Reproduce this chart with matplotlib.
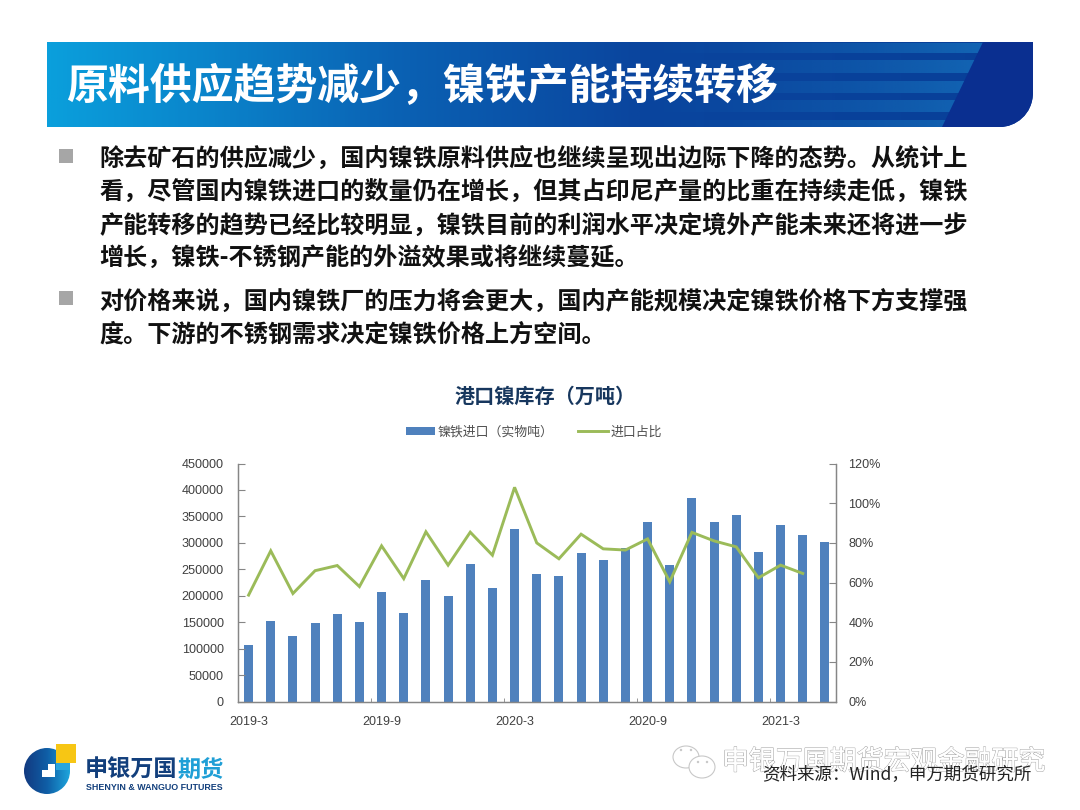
import numpy as np
import matplotlib

matplotlib.use("Agg")
import matplotlib.pyplot as plt
from matplotlib.colors import LinearSegmentedColormap
from matplotlib.patches import Circle, Ellipse, PathPatch, Polygon, Rectangle
from matplotlib.path import Path
import matplotlib.patheffects as pe

plt.rcParams["font.family"] = ["Noto Sans CJK SC", "DejaVu Sans"]
plt.rcParams["axes.unicode_minus"] = False

months = [
    "2019-3", "2019-4", "2019-5", "2019-6", "2019-7", "2019-8", "2019-9",
    "2019-10", "2019-11", "2019-12", "2020-1", "2020-2", "2020-3", "2020-4",
    "2020-5", "2020-6", "2020-7", "2020-8", "2020-9", "2020-10", "2020-11",
    "2020-12", "2021-1", "2021-2", "2021-3", "2021-4", "2021-5",
]
imports = [
    107000, 153000, 125000, 148000, 165000, 150000, 208000, 168000, 229000,
    199000, 260000, 214000, 327000, 241000, 237000, 280000, 267000, 290000,
    340000, 259000, 385000, 340000, 353000, 283000, 333000, 315000, 301000,
]
share = [
    0.537, 0.76, 0.545, 0.66, 0.686, 0.58, 0.785, 0.62, 0.856, 0.688, 0.854,
    0.738, 1.08, 0.80, 0.72, 0.844, 0.77, 0.764, 0.82, 0.604, 0.853, 0.81,
    0.78, 0.624, 0.688, 0.646,
]
tick_labels = ["2019-3", "2019-9", "2020-3", "2020-9", "2021-3"]
left_ticks = list(range(0, 450001, 50000))
right_ticks = [0, 0.2, 0.4, 0.6, 0.8, 1.0, 1.2]

slide_title = "原料供应趋势减少，镍铁产能持续转移"
body_lines = [
    "除去矿石的供应减少，国内镍铁原料供应也继续呈现出边际下降的态势。从统计上",
    "看，尽管国内镍铁进口的数量仍在增长，但其占印尼产量的比重在持续走低，镍铁",
    "产能转移的趋势已经比较明显，镍铁目前的利润水平决定境外产能未来还将进一步",
    "增长，镍铁-不锈钢产能的外溢效果或将继续蔓延。",
    "对价格来说，国内镍铁厂的压力将会更大，国内产能规模决定镍铁价格下方支撑强",
    "度。下游的不锈钢需求决定镍铁价格上方空间。",
]
body_y = [160, 193, 226, 259, 302, 335]

W, H = 1080, 810
fig = plt.figure(figsize=(W / 100, H / 100), dpi=100, facecolor="white")

# slide decoration in pixel coordinates
bg = fig.add_axes([0, 0, 1, 1])
bg.set_xlim(0, W)
bg.set_ylim(H, 0)
bg.axis("off")

banner = Path(
    [(47, 42), (1033, 42), (1033, 92), (1033, 115), (1015, 127), (1000, 127), (47, 127), (47, 42)],
    [Path.MOVETO, Path.LINETO, Path.LINETO, Path.CURVE4, Path.CURVE4, Path.CURVE4, Path.LINETO, Path.CLOSEPOLY],
)
clip = PathPatch(banner, transform=bg.transData, facecolor="none", edgecolor="none")
bg.add_patch(clip)
cmap = LinearSegmentedColormap.from_list(
    "banner",
    [(0, "#0a9fdc"), (0.15, "#0a86cc"), (0.35, "#0a62b4"), (0.6, "#0a459e"), (1, "#083f98")],
)
grad = bg.imshow(
    np.linspace(0, 1, 400).reshape(1, -1), cmap=cmap, extent=(47, 1033, 127, 42),
    aspect="auto", zorder=1,
)
grad.set_clip_path(clip)

# lighter stripes fading out to the left
stripes = [(43, 53), (60, 73), (81, 93), (100, 112), (120, 127)]
fade = np.zeros((1, 300, 4))
fade[..., :3] = matplotlib.colors.to_rgb("#1365b4")
fade[..., 3] = np.linspace(0, 1, 300) ** 1.3
for y0, y1 in stripes:
    im = bg.imshow(fade, extent=(640, 985, y1, y0), aspect="auto", zorder=2)
    im.set_clip_path(clip)

dark = Polygon([(983, 42), (1040, 42), (1040, 130), (942, 130), (942, 127)],
               facecolor="#0a2f90", edgecolor="none", zorder=3)
bg.add_patch(dark)
dark.set_clip_path(clip)

bg.text(66, 87, slide_title, color="white", fontsize=30.2, fontweight="bold",
        va="center", ha="left", zorder=5)

for y in (149, 291):
    bg.add_patch(Rectangle((59, y), 14, 14, facecolor="#a6a6a6", edgecolor="none"))
for y, line in zip(body_y, body_lines):
    bg.text(99, y, line, color="#111111", fontsize=17.35, fontweight="bold",
            va="center", ha="left")

bg.text(545, 396, "港口镍库存（万吨）", color="#17375e", fontsize=14.5, fontweight="bold",
        va="center", ha="center")

# logo
logo_cmap = LinearSegmentedColormap.from_list("logo", ["#123a80", "#0f5ea6", "#1ea5dc"])
disc = bg.imshow(np.linspace(0, 1, 100).reshape(1, -1), cmap=logo_cmap, extent=(24, 70, 794, 748),
                 aspect="auto", zorder=2)
disc.set_clip_path(Circle((47, 771), 23, transform=bg.transData))
bg.add_patch(Rectangle((56, 752), 14, 18, facecolor="#2aa6dd", edgecolor="none", zorder=3))
bg.add_patch(Rectangle((56, 744), 20, 19, facecolor="#f7c614", edgecolor="none", zorder=4))
bg.add_patch(Polygon([(42, 770), (48, 770), (48, 764), (55, 764), (55, 777), (42, 777)],
                     facecolor="white", edgecolor="none", zorder=4))
bg.text(85, 770, "申银万国", color="#123f7c", fontsize=16.7, fontweight="bold", va="center", ha="left")
bg.text(178, 770, "期货", color="#1f9fd6", fontsize=16.7, fontweight="bold", va="center", ha="left")
bg.text(86, 788, "SHENYIN & WANGUO FUTURES", color="#123f7c", fontsize=6.4, fontweight="bold",
        va="center", ha="left", family=["Liberation Sans", "DejaVu Sans"])

# watermark and source line
for cx, cy, rx, ry in ((686, 757, 13, 11), (702, 767, 13, 11)):
    bg.add_patch(Ellipse((cx, cy), 2 * rx, 2 * ry, facecolor="white", edgecolor="#c8c8c8",
                         linewidth=0.8, zorder=6))
for ex, ey in ((681, 750), (691, 750), (698, 762), (707, 762)):
    bg.add_patch(Circle((ex, ey), 1.2, facecolor="#c8c8c8", edgecolor="none", zorder=6))
bg.text(722, 762, "申银万国期货宏观金融研究", color="white", fontsize=19.4, va="center", ha="left",
        zorder=6, path_effects=[pe.withStroke(linewidth=0.9, foreground="#a8a8a8"), pe.Normal()])
bg.text(762, 775, "资料来源：Wind，申万期货研究所", color="#222222", fontsize=12.6, fontweight="medium",
        va="center", ha="left", zorder=7)

bg.set_xlim(0, W)
bg.set_ylim(H, 0)

# chart
x = np.arange(len(months))
ax = fig.add_axes([237.5 / W, 1 - 701.7 / H, (836 - 237.5) / W, (701.7 - 463.5) / H])
ax.patch.set_alpha(0)
bars = ax.bar(x, imports, width=0.41, color="#4f81bd", label="镍铁进口（实物吨）")
ax.set_xlim(-0.5, len(months) - 0.5)
ax.set_ylim(0, 450000)
ax.set_yticks(left_ticks)
ax.set_xticks(x[::6])
ax.set_xticklabels(tick_labels)
ax.set_xticks(np.arange(-0.5, len(months), 6), minor=True)
ax.tick_params(axis="x", which="major", length=0, labelsize=9, labelcolor="#404040", pad=10)
ax.tick_params(axis="x", which="minor", length=3, direction="in", color="#868686")
ax.tick_params(axis="y", length=5, direction="in", color="#868686", labelsize=9.1,
               labelcolor="#404040", pad=10)
for lab in ax.get_xticklabels() + ax.get_yticklabels():
    lab.set_family(["Liberation Sans", "DejaVu Sans"])

ax2 = ax.twinx()
line, = ax2.plot(x[:len(share)], share, color="#9bbb59", linewidth=2.1, label="进口占比",
                 solid_joinstyle="miter")
ax2.set_ylim(0, 1.2)
ax2.set_yticks(right_ticks)
ax2.set_yticklabels([f"{int(round(t * 100))}%" for t in right_ticks])
ax2.tick_params(axis="y", length=5, direction="in", color="#868686", labelsize=9.1,
                labelcolor="#404040", pad=9)
for lab in ax2.get_yticklabels():
    lab.set_family(["Liberation Sans", "DejaVu Sans"])

for a in (ax, ax2):
    a.spines["top"].set_visible(False)
    for s in ("left", "right", "bottom"):
        a.spines[s].set_color("#868686")
        a.spines[s].set_linewidth(0.9)

fig.legend(
    [bars, line], ["镍铁进口（实物吨）", "进口占比"], ncol=2, frameon=False, fontsize=9.3,
    labelcolor="#505050", loc="center", bbox_to_anchor=(534 / W, 1 - 432 / H),
    handlelength=2.3, handleheight=0.5, handletextpad=0.2, columnspacing=1.9,
)

fig.savefig("out.png", dpi=100)
plt.close(fig)
